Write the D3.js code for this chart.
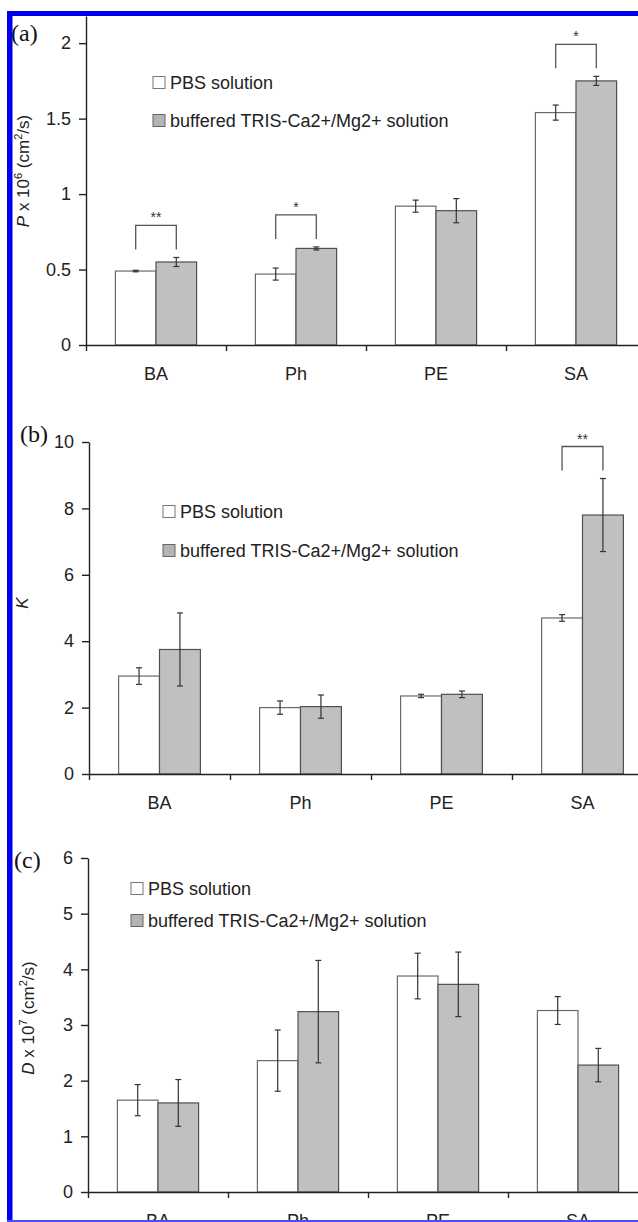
<!DOCTYPE html>
<html>
<head>
<meta charset="utf-8">
<style>
  body { margin: 0; background: #fff; }
  svg { display: block; }
  text { font-family: "Liberation Sans", Arial, sans-serif; fill: #222; }
</style>
</head>
<body>
<script src="https://cdn.jsdelivr.net/npm/d3@7"></script>
<script>
// data
var categories = ["BA", "Ph", "PE", "SA"];
var seriesNames = ["PBS solution", "buffered TRIS-Ca2+/Mg2+ solution"];

var pPBS = [0.49, 0.47, 0.92, 1.54];
var pPBSErr = [0.005, 0.04, 0.04, 0.05];
var pTris = [0.55, 0.64, 0.89, 1.75];
var pTrisErr = [0.03, 0.01, 0.08, 0.03];
var pSig = ["**", "*", "", "*"];
var pTicks = [0, 0.5, 1, 1.5, 2];

var kPBS = [2.95, 2.0, 2.35, 4.7];
var kPBSErr = [0.25, 0.2, 0.05, 0.1];
var kTris = [3.75, 2.03, 2.4, 7.8];
var kTrisErr = [1.1, 0.35, 0.1, 1.1];
var kSig = ["", "", "", "**"];
var kTicks = [0, 2, 4, 6, 8, 10];

var dPBS = [1.65, 2.36, 3.88, 3.26];
var dPBSErr = [0.28, 0.55, 0.41, 0.25];
var dTris = [1.6, 3.24, 3.73, 2.28];
var dTrisErr = [0.42, 0.92, 0.58, 0.3];
var dSig = ["", "", "", ""];
var dTicks = [0, 1, 2, 3, 4, 5, 6];

var W = 638, H = 1222;
var svg = d3.select("body").append("svg").attr("width", W).attr("height", H);

var fills = ["#ffffff", "#c0c0c0"];
var strokes = ["#6a6a6a", "#505050"];

function drawPanel(o) {
    var g = svg.append("g");
    var x = d3.scaleBand().domain(categories).range([o.x0, o.x1]);
    var bw = x.bandwidth();
    var sub = d3.scaleBand().domain([0, 1]).range([0.21 * bw, 0.79 * bw]);
    var y = d3.scaleLinear().domain([0, o.yMax]).range([o.yB, o.yT]);

    var rows = categories.map(function(c, i) {
        return [
            {cat: c, s: 0, v: o.pbs[i], e: o.pbsErr[i]},
            {cat: c, s: 1, v: o.tris[i], e: o.trisErr[i]}
        ];
    });
    var flat = [].concat.apply([], rows);

    g.selectAll("rect.bar")
        .data(flat)
        .enter()
        .append("rect")
        .attr("class", "bar")
        .attr("x", d => x(d.cat) + sub(d.s))
        .attr("y", d => y(d.v))
        .attr("width", sub.bandwidth())
        .attr("height", d => o.yB - y(d.v))
        .attr("fill", d => fills[d.s])
        .attr("stroke", d => strokes[d.s])
        .attr("stroke-width", 1.2);

    // error bars
    var eb = g.selectAll("g.err").data(flat).enter().append("g")
        .attr("stroke", "#333").attr("stroke-width", 1.2);
    var cx = d => x(d.cat) + sub(d.s) + sub.bandwidth() / 2;
    eb.append("line").attr("x1", cx).attr("x2", cx)
        .attr("y1", d => y(d.v + d.e)).attr("y2", d => y(d.v - d.e));
    eb.append("line").attr("x1", d => cx(d) - 3).attr("x2", d => cx(d) + 3)
        .attr("y1", d => y(d.v + d.e)).attr("y2", d => y(d.v + d.e));
    eb.append("line").attr("x1", d => cx(d) - 3).attr("x2", d => cx(d) + 3)
        .attr("y1", d => y(d.v - d.e)).attr("y2", d => y(d.v - d.e));

    // significance brackets
    categories.forEach(function(c, i) {
        if (!o.sig[i]) return;
        var a = rows[i][0], b = rows[i][1];
        var top = Math.min(y(a.v + a.e), y(b.v + b.e)) - 32;
        var xa = cx(a), xb = cx(b);
        g.append("path")
            .attr("d", "M" + xa + "," + (top + 24) + "V" + top + "H" + xb + "V" + (top + 24))
            .attr("fill", "none").attr("stroke", "#555").attr("stroke-width", 1.3);
        g.append("text").attr("x", (xa + xb) / 2).attr("y", top - 3)
            .attr("text-anchor", "middle").style("font-size", "14px")
            .style("fill", "#333").text(o.sig[i]);
    });

    // y axis
    var ya = g.append("g").attr("transform", "translate(" + o.x0 + ",0)")
        .call(d3.axisLeft(y).tickValues(o.ticks).tickSize(7).tickSizeOuter(0)
            .tickPadding(8).tickFormat(d => String(d)));
    ya.selectAll("text").style("font-size", "18px").style("font-family", "'Liberation Sans', Arial, sans-serif").attr("fill", "#222");
    ya.selectAll("path, line").attr("stroke", "#222").attr("stroke-width", 1.4);

    // x axis: ticks at the category boundaries
    var xb = d3.scaleLinear().domain([0, categories.length]).range([o.x0, o.x1]);
    var xa = g.append("g").attr("transform", "translate(0," + o.yB + ")")
        .call(d3.axisBottom(xb).tickValues(d3.range(categories.length + 1))
            .tickSize(6).tickSizeOuter(0).tickFormat(""));
    xa.selectAll("path, line").attr("stroke", "#222").attr("stroke-width", 1.4);

    g.selectAll("text.cat").data(categories).enter().append("text")
        .attr("class", "cat")
        .attr("x", d => x(d) + bw / 2)
        .attr("y", o.yB + 35)
        .attr("text-anchor", "middle")
        .style("font-size", "18px")
        .text(d => d);

    // legend
    seriesNames.forEach(function(s, i) {
        g.append("rect").attr("x", o.lx).attr("y", o.ly[i] - 12.5)
            .attr("width", 12).attr("height", 12)
            .attr("fill", i ? "#b4b4b4" : "#fff").attr("stroke", i ? "#666" : "#777");
        g.append("text").attr("x", o.lx + 17).attr("y", o.ly[i])
            .style("font-size", "18px").text(s);
    });

    // panel label
    g.append("text").attr("x", o.px).attr("y", o.py)
        .style("font-family", "'Liberation Serif', 'Times New Roman', serif")
        .style("font-size", "24px").style("fill", "#111").text(o.panel);

    // y label
    var yl = g.append("text")
        .attr("transform", "translate(" + o.yl[0] + "," + o.yl[1] + ") rotate(-90)")
        .attr("text-anchor", "middle")
        .style("font-size", "17px");
    yl.append("tspan").style("font-style", "italic").text(o.ylab[0]);
    if (o.ylab.length > 1) {
        yl.append("tspan").text(" x 10");
        yl.append("tspan").attr("dy", -7).style("font-size", "11px").text(o.ylab[1]);
        yl.append("tspan").attr("dy", 7).text(" (cm");
        yl.append("tspan").attr("dy", -7).style("font-size", "11px").text("2");
        yl.append("tspan").attr("dy", 7).text("/s)");
    }
}

drawPanel({
    pbs: pPBS, pbsErr: pPBSErr, tris: pTris, trisErr: pTrisErr, sig: pSig, ticks: pTicks,
    x0: 86, x1: 646, yB: 345, yT: 16, yMax: 2.18,
    lx: 153, ly: [89, 127], px: 11, py: 41, panel: "(a)",
    yl: [29, 171], ylab: ["P", "6"]
});
drawPanel({
    pbs: kPBS, pbsErr: kPBSErr, tris: kTris, trisErr: kTrisErr, sig: kSig, ticks: kTicks,
    x0: 89, x1: 653, yB: 774, yT: 442, yMax: 10,
    lx: 163, ly: [518, 557], px: 20, py: 442, panel: "(b)",
    yl: [28, 603], ylab: ["K"]
});
drawPanel({
    pbs: dPBS, pbsErr: dPBSErr, tris: dTris, trisErr: dTrisErr, sig: dSig, ticks: dTicks,
    x0: 88, x1: 648, yB: 1192, yT: 858, yMax: 6,
    lx: 131, ly: [895, 927], px: 14, py: 868, panel: "(c)",
    yl: [34, 1018], ylab: ["D", "7"]
});

// blue frame
svg.append("rect").attr("x", 7).attr("y", 11).attr("width", W - 7).attr("height", 5).attr("fill", "#0000ee");
svg.append("rect").attr("x", 7).attr("y", 11).attr("width", 5.5).attr("height", H - 11).attr("fill", "#0000ee");
svg.append("rect").attr("x", 7).attr("y", 1220).attr("width", W - 7).attr("height", 2).attr("fill", "#4d4dff");
</script>
</body>
</html>
